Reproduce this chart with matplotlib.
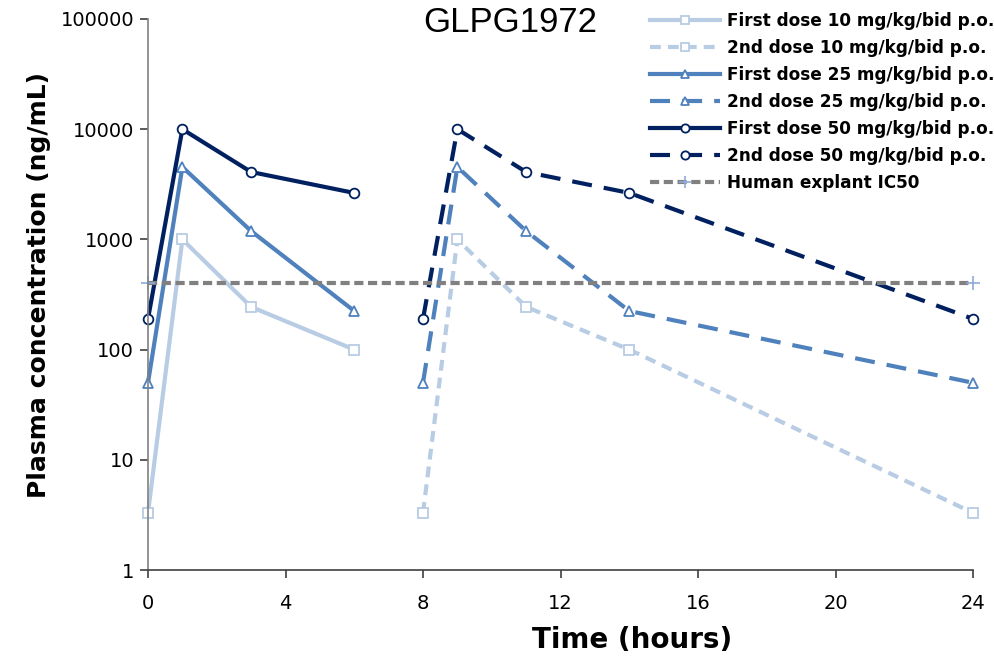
import matplotlib
matplotlib.use("Agg")
import matplotlib.pyplot as plt

t_first = [0, 1, 3, 6]
t_second = [8, 9, 11, 14, 24]
first_10 = [3.3, 1000, 244, 100]
second_10 = [3.3, 1000, 244, 100, 3.3]
first_25 = [50, 4540, 1190, 224]
second_25 = [50, 4540, 1190, 224, 50]
first_50 = [190, 10000, 4090, 2640]
second_50 = [190, 10000, 4090, 2640, 190]
ic50_t = [0, 24]
ic50 = [400, 400]
x_ticks = [0, 4, 8, 12, 16, 20, 24]
y_ticks = [1, 10, 100, 1000, 10000, 100000]

c10 = "#b8cce4"
c25 = "#4f81bd"
c50 = "#002060"
cgray = "#808080"

fig = plt.figure(figsize=(9.95, 6.6), dpi=100)
ax = fig.add_axes([148/995, 1-570/660, (973-148)/995, (570-19)/660])

lw = 3.0
ms = 7
mew = 1.3
short_dash = (0, (2.6, 1.7))
long_dash = (0, (4.8, 2.9))
ax.plot(t_first, first_10, color=c10, lw=lw, marker="s", ms=ms, mfc="white", mec=c10, mew=mew,
        label="First dose 10 mg/kg/bid p.o.")
ax.plot(t_second, second_10, color=c10, lw=lw, ls=short_dash, marker="s", ms=ms, mfc="white", mec=c10, mew=mew,
        label="2nd dose 10 mg/kg/bid p.o.")
ax.plot(t_first, first_25, color=c25, lw=lw, marker="^", ms=ms, mfc="white", mec=c25, mew=mew,
        label="First dose 25 mg/kg/bid p.o.")
ax.plot(t_second, second_25, color=c25, lw=lw, ls=long_dash, marker="^", ms=ms, mfc="white", mec=c25, mew=mew,
        label="2nd dose 25 mg/kg/bid p.o.")
ax.plot(t_first, first_50, color=c50, lw=lw, marker="o", ms=ms, mfc="white", mec=c50, mew=mew,
        label="First dose 50 mg/kg/bid p.o.")
ax.plot(t_second, second_50, color=c50, lw=lw, ls=long_dash, marker="o", ms=ms, mfc="white", mec=c50, mew=mew,
        label="2nd dose 50 mg/kg/bid p.o.")
ax.plot(ic50_t, ic50, color=cgray, lw=lw, ls=(0, (2.2, 1.1)), marker="+", ms=10, mec="#8eaadb", mew=1.2,
        label="Human explant IC50")

ax.set_yscale("log")
ax.set_ylim(1, 100000)
ax.set_xlim(0, 24)
ax.set_yticks(y_ticks)
ax.set_yticklabels([str(v) for v in y_ticks])
ax.minorticks_off()
ax.set_xticks(x_ticks)
ax.set_xticklabels([str(v) for v in x_ticks])

for s in ["top", "right"]:
    ax.spines[s].set_visible(False)
ax.spines["left"].set_color("#808080")
ax.spines["bottom"].set_color("#404040")
ax.spines["left"].set_linewidth(1.2)
ax.spines["bottom"].set_linewidth(1.2)
ax.tick_params(axis="both", labelsize=14, length=6, width=1.2, colors="#404040", labelcolor="black")
ax.tick_params(axis="x", pad=11)
ax.tick_params(axis="y", pad=4)
for ln in ax.lines:
    ln.set_clip_on(False)

ax.set_xlabel("Time (hours)", fontsize=20, fontweight="bold", labelpad=10)
ax.xaxis.set_label_coords((632-148)/825, -(626-570)/551)
ax.set_ylabel("Plasma concentration (ng/mL)", fontsize=18, fontweight="bold")
ax.yaxis.set_label_coords(-(148-51)/825, (570-285)/551)

fig.text(510/995, 1-22/660, "GLPG1972", fontsize=25, family="Liberation Sans", ha="center", va="center")

leg = ax.legend(loc="upper right", bbox_to_anchor=(0.999, 1-12/660), bbox_transform=fig.transFigure,
                frameon=False, prop={"weight": "bold", "size": 12.2}, handlelength=4.1,
                labelspacing=0.53, handletextpad=0.4, borderaxespad=0, borderpad=0, markerscale=0.85)

fig.savefig("out.png", dpi=100)
